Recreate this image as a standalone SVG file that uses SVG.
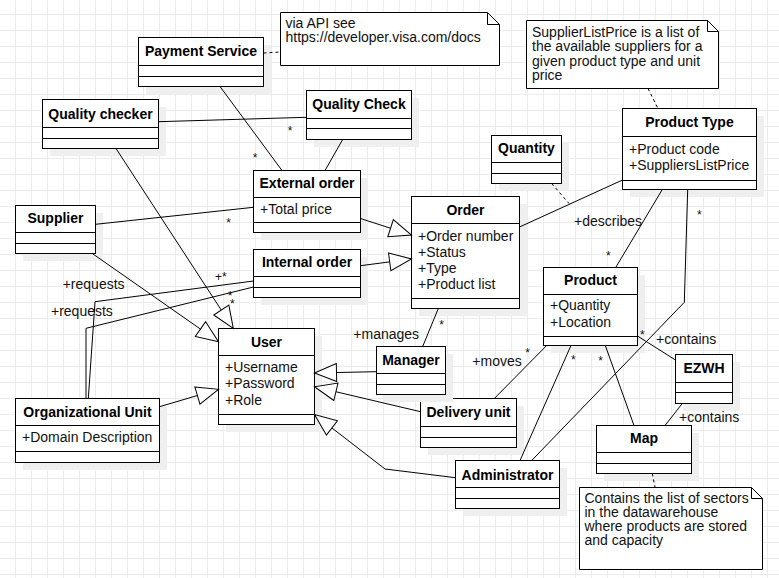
<svg xmlns="http://www.w3.org/2000/svg" width="779" height="578" viewBox="0 0 779 578">
<defs>
<pattern id="grid" patternUnits="userSpaceOnUse" x="15" y="14" width="16" height="16">
<path d="M0 0.5H16M0.5 0V16" stroke="#ececec" stroke-width="1" fill="none"/>
</pattern>
<marker id="gen" markerUnits="userSpaceOnUse" markerWidth="26" markerHeight="22" viewBox="-2 -2 26 22" refX="22" refY="9" orient="auto" overflow="visible">
<path d="M0,0 L22,9 L0,18 Z" fill="#fff" stroke="#000" stroke-width="1"/>
</marker>
</defs>
<style>
.box{fill:#fff;stroke:#000;stroke-width:1}
.sh{fill:#efefef;stroke:none}
.ln{stroke:#000;stroke-width:1;fill:none}
.dash{stroke:#000;stroke-width:1;fill:none;stroke-dasharray:3 3}
.note{fill:#fff;stroke:#000;stroke-width:1}
.t{font-family:"Liberation Sans",Arial,sans-serif;font-size:14px;fill:#111}
.b{font-weight:bold;text-anchor:middle;fill:#000}
.s{font-size:12px;text-anchor:middle}
.s2{font-size:12px}
</style>
<rect width="779" height="578" fill="#fff"/>
<rect width="779" height="578" fill="url(#grid)"/>

<!-- nodes -->
<g id="note-visa">
<path class="note" d="M280.5,12.5H487.5L499.5,24.5V65.5H280.5Z"/>
<path class="ln" d="M487.5,12.5V24.5H499.5"/>
<text class="t" x="285.5" y="27.5">via API see</text>
<text class="t" x="285.5" y="41.5">https://developer.visa.com/docs</text>
</g>

<g id="note-supplierlistprice">
<path class="note" d="M526.5,20.5H707.5L718.5,31.5V88.5H526.5Z"/>
<path class="ln" d="M707.5,20.5V31.5H718.5"/>
<text class="t" x="532" y="36.5">SupplierListPrice is a list of</text>
<text class="t" x="532" y="51">the available suppliers for a</text>
<text class="t" x="532" y="65.5">given product type and unit</text>
<text class="t" x="532" y="80">price</text>
</g>

<g id="note-map">
<path class="note" d="M579.5,487.5H751.5L762.5,498.5V569.5H579.5Z"/>
<path class="ln" d="M751.5,487.5V498.5H762.5"/>
<text class="t" x="584.5" y="502.5">Contains the list of sectors</text>
<text class="t" x="584.5" y="517">in the datawarehouse</text>
<text class="t" x="584.5" y="531">where products are stored</text>
<text class="t" x="584.5" y="545">and capacity</text>
</g>

<g id="payment-service">
<rect class="sh" x="146" y="45" width="125" height="49"/>
<rect class="box" x="138.5" y="37.5" width="125" height="49"/>
<path class="ln" d="M138.5,65.5H263.5M138.5,76.5H263.5"/>
<text class="t b" x="201" y="56">Payment Service</text>
</g>

<g id="quality-check">
<rect class="sh" x="314" y="98" width="105" height="49"/>
<rect class="box" x="306.5" y="90.5" width="105" height="49"/>
<path class="ln" d="M306.5,118.5H411.5M306.5,128.5H411.5"/>
<text class="t b" x="359" y="109">Quality Check</text>
</g>

<g id="quality-checker">
<rect class="sh" x="50" y="107" width="116" height="49"/>
<rect class="box" x="42.5" y="99.5" width="116" height="49"/>
<path class="ln" d="M42.5,127.5H158.5M42.5,138.5H158.5"/>
<text class="t b" x="100.5" y="118.5">Quality checker</text>
</g>

<g id="supplier">
<rect class="sh" x="23" y="213" width="80" height="48"/>
<rect class="box" x="15.5" y="205.5" width="80" height="48"/>
<path class="ln" d="M15.5,232.5H95.5M15.5,243.5H95.5"/>
<text class="t b" x="55.5" y="223">Supplier</text>
</g>

<g id="external-order">
<rect class="sh" x="261" y="178" width="107" height="62"/>
<rect class="box" x="253.5" y="170.5" width="107" height="62"/>
<path class="ln" d="M253.5,197.5H360.5M253.5,222.5H360.5"/>
<text class="t b" x="307" y="188">External order</text>
<text class="t" x="260" y="213.5">+Total price</text>
</g>

<g id="internal-order">
<rect class="sh" x="261" y="257" width="107" height="48"/>
<rect class="box" x="253.5" y="249.5" width="107" height="48"/>
<path class="ln" d="M253.5,276.5H360.5M253.5,287.5H360.5"/>
<text class="t b" x="307" y="267">Internal order</text>
</g>

<g id="order">
<rect class="sh" x="419" y="204" width="108" height="112"/>
<rect class="box" x="411.5" y="196.5" width="108" height="112"/>
<path class="ln" d="M411.5,223.5H519.5M411.5,298.5H519.5"/>
<text class="t b" x="465.5" y="215">Order</text>
<text class="t" x="418" y="240.5">+Order number</text>
<text class="t" x="418" y="256.5">+Status</text>
<text class="t" x="418" y="273">+Type</text>
<text class="t" x="418" y="289">+Product list</text>
</g>

<g id="quantity">
<rect class="sh" x="499" y="143" width="70" height="48"/>
<rect class="box" x="491.5" y="135.5" width="70" height="48"/>
<path class="ln" d="M491.5,162.5H561.5M491.5,173.5H561.5"/>
<text class="t b" x="526.5" y="153">Quantity</text>
</g>

<g id="product-type">
<rect class="sh" x="630" y="116" width="134" height="81"/>
<rect class="box" x="622.5" y="108.5" width="134" height="81"/>
<path class="ln" d="M622.5,136.5H756.5M622.5,180.5H756.5"/>
<text class="t b" x="689.5" y="127">Product Type</text>
<text class="t" x="629" y="153.5">+Product code</text>
<text class="t" x="629" y="170">+SuppliersListPrice</text>
</g>

<g id="product">
<rect class="sh" x="551" y="275" width="94" height="78"/>
<rect class="box" x="543.5" y="267.5" width="94" height="78"/>
<path class="ln" d="M543.5,294.5H637.5M543.5,336.5H637.5"/>
<text class="t b" x="590.5" y="284.5">Product</text>
<text class="t" x="550" y="310">+Quantity</text>
<text class="t" x="550" y="326.5">+Location</text>
</g>

<g id="ezwh">
<rect class="sh" x="683" y="362" width="57" height="49"/>
<rect class="box" x="675.5" y="354.5" width="57" height="49"/>
<path class="ln" d="M675.5,382.5H732.5M675.5,392.5H732.5"/>
<text class="t b" x="704" y="373">EZWH</text>
</g>

<g id="map">
<rect class="sh" x="604" y="433" width="95" height="48"/>
<rect class="box" x="596.5" y="425.5" width="95" height="48"/>
<path class="ln" d="M596.5,452.5H691.5M596.5,463.5H691.5"/>
<text class="t b" x="644" y="443">Map</text>
</g>

<g id="administrator">
<rect class="sh" x="463" y="468" width="104" height="48"/>
<rect class="box" x="455.5" y="460.5" width="104" height="48"/>
<path class="ln" d="M455.5,487.5H559.5M455.5,498.5H559.5"/>
<text class="t b" x="507.5" y="479.5">Administrator</text>
</g>

<g id="delivery-unit">
<rect class="sh" x="428" y="406" width="96" height="49"/>
<rect class="box" x="420.5" y="398.5" width="96" height="49"/>
<path class="ln" d="M420.5,426.5H516.5M420.5,437.5H516.5"/>
<text class="t b" x="468.5" y="417">Delivery unit</text>
</g>

<g id="manager">
<rect class="sh" x="384" y="354" width="69" height="48"/>
<rect class="box" x="376.5" y="346.5" width="69" height="48"/>
<path class="ln" d="M376.5,373.5H445.5M376.5,384.5H445.5"/>
<text class="t b" x="411" y="364.5">Manager</text>
</g>

<g id="user">
<rect class="sh" x="226" y="336" width="96" height="96"/>
<rect class="box" x="218.5" y="328.5" width="96" height="96"/>
<path class="ln" d="M218.5,355.5H314.5M218.5,414.5H314.5"/>
<text class="t b" x="266.5" y="347">User</text>
<text class="t" x="225" y="372">+Username</text>
<text class="t" x="225" y="388">+Password</text>
<text class="t" x="225" y="404.5">+Role</text>
</g>

<g id="organizational-unit">
<rect class="sh" x="23" y="406" width="144" height="64"/>
<rect class="box" x="15.5" y="398.5" width="144" height="64"/>
<path class="ln" d="M15.5,425.5H159.5M15.5,451.5H159.5"/>
<text class="t b" x="87.5" y="417">Organizational Unit</text>
<text class="t" x="22" y="442">+Domain Description</text>
</g>

<!-- connectors -->
<g id="connectors">
<path class="dash" d="M263.5,53L280.5,52"/>
<path class="ln" d="M220,86.5L282,170.5"/>
<path class="ln" d="M158.5,121.7L306.5,117.3"/>
<path class="ln" d="M342.7,139.5L325,170.5"/>
<path class="ln" d="M95.5,224.3L253.5,207.3"/>
<path class="ln" d="M92.3,253.5L218.5,341.7" marker-end="url(#gen)"/>
<path class="ln" d="M116,148.5L233.3,328.5" marker-end="url(#gen)"/>
<path class="ln" d="M360.5,218.5L411.5,235" marker-end="url(#gen)"/>
<path class="ln" d="M360.5,265.7L411.5,259" marker-end="url(#gen)"/>
<path class="ln" d="M519.5,227L622.5,180"/>
<path class="dash" d="M551.7,183.5L569,203.5"/>
<path class="dash" d="M648,88.5L658,108.5"/>
<path class="ln" d="M662.3,189.5L615.7,267.5"/>
<path class="ln" d="M687.7,189.5L684.3,302.3L531.7,460.5"/>
<path class="ln" d="M637.5,336L675.5,360"/>
<path class="ln" d="M682.3,403.5L665,425.5"/>
<path class="ln" d="M605.3,345.5L634,425.5"/>
<path class="dash" d="M652.3,473.5L655,487.5"/>
<path class="ln" d="M546.7,345.5L494.3,398.5"/>
<path class="ln" d="M571,345.5L520,460.5"/>
<path class="ln" d="M422.7,346.5L438.3,308.5"/>
<path class="ln" d="M376.5,371.7L314.5,373" marker-end="url(#gen)"/>
<path class="ln" d="M420.5,411.7L314.5,386.7" marker-end="url(#gen)"/>
<path class="ln" d="M455.5,477.7L385,469L314.5,414.5" marker-end="url(#gen)"/>
<path class="ln" d="M159.5,406.7L218.5,389.3" marker-end="url(#gen)"/>
<path class="ln" d="M88.3,398.5L95,301.7L253.5,281"/>
<path class="ln" d="M86,398.5L86,328.3L253.5,287"/>

<text class="t s" x="255" y="162">*</text>
<text class="t s" x="290" y="134.7">*</text>
<text class="t s" x="228.7" y="227">*</text>
<text class="t s" x="441.7" y="329.3">*</text>
<text class="t s" x="608.3" y="259.7">*</text>
<text class="t s" x="699.3" y="219.3">*</text>
<text class="t s" x="642.3" y="338.7">*</text>
<text class="t s" x="527.7" y="357">*</text>
<text class="t s" x="573.3" y="364.3">*</text>
<text class="t s" x="600.7" y="365.3">*</text>
<text class="t s" x="230" y="300.3">*</text>
<text class="t s" x="232.3" y="308">*</text>
<text class="t s2" x="215" y="280.5">+*</text>
<text class="t" x="574" y="226">+describes</text>
<text class="t" x="656" y="344">+contains</text>
<text class="t" x="679" y="421.5">+contains</text>
<text class="t" x="472.3" y="365.5">+moves</text>
<text class="t" x="353.3" y="338.5">+manages</text>
<text class="t" x="62.7" y="288.5">+requests</text>
<text class="t" x="51" y="315.5">+requests</text>
</g>
</svg>
